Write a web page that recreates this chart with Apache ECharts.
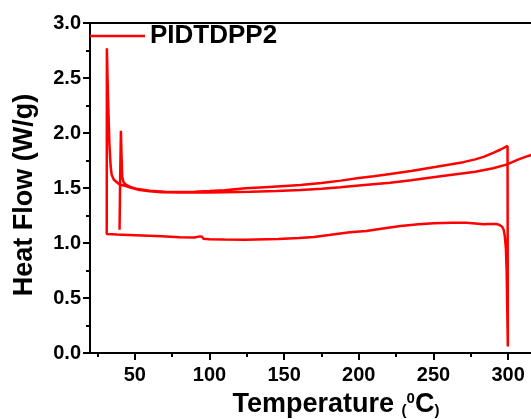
<!DOCTYPE html>
<html>
<head>
<meta charset="utf-8">
<script src="https://cdn.jsdelivr.net/npm/echarts@6/dist/echarts.min.js"></script>
<style>html,body{margin:0;padding:0;background:#fff;}#c{width:531px;height:419px;}</style>
</head>
<body>
<div id="c"></div>
<script>
// First heating run (starts at 40 °C, ends at 300 °C)
const heat1Temp = [39.8, 40.2, 40.7, 41.1, 41.6, 42.5, 44, 47, 52, 60, 70, 80, 90, 100, 110, 124, 140, 161, 175, 188, 200, 210, 221, 235, 251, 262, 270, 278, 284, 290, 295, 299.6, 300.1];
const heat1Flow = [1.12, 1.6, 2.02, 1.8, 1.6, 1.55, 1.53, 1.51, 1.49, 1.475, 1.465, 1.463, 1.466, 1.472, 1.48, 1.497, 1.51, 1.527, 1.545, 1.567, 1.59, 1.607, 1.628, 1.655, 1.69, 1.715, 1.735, 1.76, 1.785, 1.82, 1.85, 1.882, 1.885];
// Cooling run (300 °C back to 31 °C)
const coolTemp = [300.1, 299.8, 299.4, 299.0, 298.5, 297.8, 297, 296, 294, 292, 288, 283.5, 278, 272, 262, 250, 240, 228, 215, 205, 194, 180, 170, 160, 146, 124, 110, 100, 96, 95, 93.5, 90, 80, 68, 55, 45.7, 38, 31.2];
const coolFlow = [1.885, 0.06, 0.4, 0.75, 0.95, 1.06, 1.12, 1.148, 1.166, 1.172, 1.172, 1.17, 1.178, 1.185, 1.185, 1.179, 1.17, 1.155, 1.13, 1.11, 1.097, 1.072, 1.055, 1.045, 1.036, 1.03, 1.032, 1.035, 1.038, 1.058, 1.06, 1.05, 1.053, 1.061, 1.068, 1.073, 1.077, 1.082];
// Second heating run (31 °C upward)
const heat2Temp = [31.2, 31.3, 32, 33, 33.8, 34.5, 36, 37, 40, 43.5, 47, 52, 60, 68, 80, 90, 100, 110, 127.5, 145, 161, 175, 187.6, 200, 221, 235, 251, 265, 278, 290, 299.3, 307, 312, 318, 320];
const heat2Flow = [1.082, 2.77, 2.35, 1.9, 1.7, 1.62, 1.575, 1.557, 1.53, 1.52, 1.505, 1.485, 1.47, 1.462, 1.458, 1.458, 1.46, 1.462, 1.467, 1.473, 1.482, 1.493, 1.506, 1.522, 1.548, 1.57, 1.6, 1.625, 1.648, 1.68, 1.715, 1.76, 1.785, 1.81, 1.82];
const xMajorTicks = [50, 100, 150, 200, 250, 300];
const xMinorTicks = [25, 75, 125, 175, 225, 275];
const seriesName = 'PIDTDPP2';

const pts = [];
[[heat1Temp, heat1Flow], [coolTemp, coolFlow], [heat2Temp, heat2Flow]].forEach(([t, f]) => {
  t.forEach((v, i) => pts.push([v, f[i]]));
});

const FF = '"Liberation Sans", Arial, sans-serif';
const chart = echarts.init(document.getElementById('c'), null, {renderer: 'canvas'});
chart.setOption({
  backgroundColor: '#fff',
  animation: false,
  grid: {left: 90, top: 23, width: 448, height: 330, show: true, borderColor: '#000', borderWidth: 2, outerBoundsMode: 'none', containLabel: false},
  legend: {
    data: [{name: seriesName, icon: 'rect'}], left: 90, top: 23, padding: 0, itemWidth: 55, itemHeight: 2.6, itemGap: 5,
    itemStyle: {color: '#ff0000', borderWidth: 0},
    textStyle: {fontFamily: FF, fontWeight: 'bold', fontSize: 26, color: '#000'}
  },
  xAxis: [{
    type: 'value', min: 20, max: 320, position: 'bottom',
    name: 'Temperature {p|(}{sup|0}C{p|)}', nameLocation: 'middle', nameGap: 38,
    nameTextStyle: {fontFamily: FF, fontWeight: 'bold', fontSize: 27, color: '#000', padding: [0, 0, 0, 44],
      rich: {p: {fontFamily: FF, fontWeight: 'bold', fontSize: 15, color: '#000', verticalAlign: 'bottom'},
             sup: {fontFamily: FF, fontWeight: 'bold', fontSize: 15, color: '#000', verticalAlign: 'top'}}},
    axisLine: {show: true, lineStyle: {color: '#000', width: 2}},
    axisTick: {show: true, inside: false, length: 7, lineStyle: {color: '#000', width: 2}, customValues: xMajorTicks},
    axisLabel: {show: true, margin: 12, fontFamily: FF, fontWeight: 'bold', fontSize: 20, color: '#000', customValues: xMajorTicks},
    splitLine: {show: false}
  }, {
    type: 'value', min: 20, max: 320, position: 'bottom',
    axisLine: {show: false},
    axisTick: {show: true, inside: false, length: 4, lineStyle: {color: '#000', width: 2}, customValues: xMinorTicks},
    axisLabel: {show: false},
    splitLine: {show: false}
  }],
  yAxis: {
    type: 'value', min: 0, max: 3, interval: 0.5,
    name: 'Heat Flow (W/g)', nameLocation: 'middle', nameGap: 52,
    nameTextStyle: {fontFamily: FF, fontWeight: 'bold', fontSize: 27, color: '#000', padding: [0, 14, 0, 0]},
    axisLine: {show: true, lineStyle: {color: '#000', width: 2}},
    axisTick: {show: true, inside: false, length: 7, lineStyle: {color: '#000', width: 2}},
    minorTick: {show: true, splitNumber: 2, length: 4, lineStyle: {color: '#000', width: 2}},
    axisLabel: {margin: 9, fontFamily: FF, fontWeight: 'bold', fontSize: 20, color: '#000', formatter: v => v.toFixed(1)},
    splitLine: {show: false}
  },
  series: [{
    name: seriesName, type: 'line', xAxisIndex: 0, symbol: 'none', showSymbol: false,
    lineStyle: {color: '#ff0000', width: 2.5}, itemStyle: {color: '#ff0000'},
    data: pts
  }]
});
</script>
</body>
</html>
